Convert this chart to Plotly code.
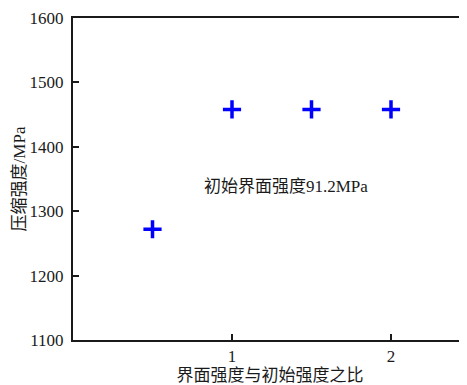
import plotly.graph_objects as go

ratio = [0.5, 1.0, 1.5, 2.0]
strength = [1272, 1458, 1458, 1458]
x_ticks = [1, 2]
y_ticks = [1100, 1200, 1300, 1400, 1500, 1600]

FONT = "'Liberation Serif', 'Noto Sans CJK SC', serif"
TXT = "#1a1a1a"

fig = go.Figure()
fig.add_trace(go.Scatter(
    x=ratio, y=strength, mode="markers",
    marker=dict(symbol="cross-thin", size=13, color="#0000FF",
                line=dict(color="#0000FF", width=3.5)),
    showlegend=False,
))

fig.add_annotation(x=1.34, y=1339, text="初始界面强度91.2MPa", showarrow=False,
                   font=dict(family=FONT, size=17, color=TXT))

fig.update_layout(
    width=459, height=377,
    margin=dict(l=65, r=0, t=10, b=45),
    paper_bgcolor="white", plot_bgcolor="white",
    font=dict(family=FONT, color=TXT),
    xaxis=dict(range=[0, 2.478], tickvals=x_ticks, ticks="inside", ticklen=6,
               tickwidth=1.5, tickcolor=TXT,
               showline=True, linecolor=TXT, linewidth=2, mirror=True,
               showgrid=False, zeroline=False,
               tickfont=dict(family=FONT, size=17, color=TXT),
               title=dict(text="界面强度与初始强度之比", font=dict(family=FONT, size=17, color=TXT), standoff=0)),
    yaxis=dict(range=[1100, 1600], tickvals=y_ticks, ticks="inside", ticklen=6,
               tickwidth=1.5, tickcolor=TXT,
               showline=True, linecolor=TXT, linewidth=2, mirror=False,
               showgrid=False, zeroline=False, ticklabelstandoff=4,
               tickfont=dict(family=FONT, size=17, color=TXT),
               title=dict(text="压缩强度/MPa", font=dict(family=FONT, size=17, color=TXT), standoff=0)),
)

fig.write_html("out.html")
